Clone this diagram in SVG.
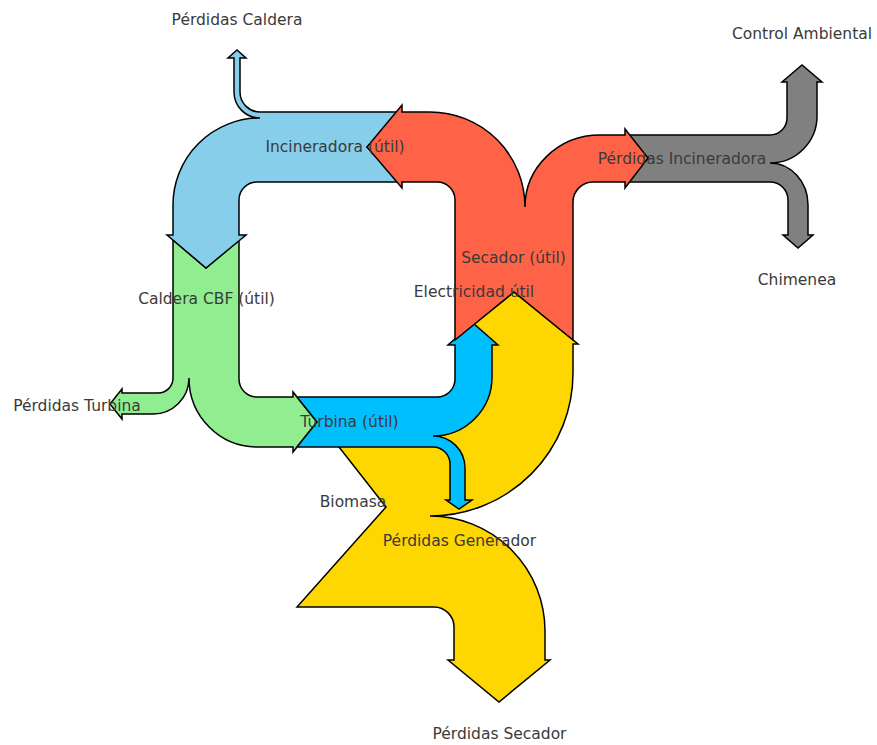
<svg xmlns="http://www.w3.org/2000/svg" width="877" height="745" viewBox="0 0 877 745">
<style>
.flow{stroke:#000;stroke-width:1.5;stroke-linejoin:miter;stroke-miterlimit:10}
.lbl{font-family:"DejaVu Sans",sans-serif;font-size:15.5px;fill:#3a3a3a;text-anchor:middle}
</style>
<rect width="877" height="745" fill="#fff"/>
<g id="connectors">
<g id="biomasa">
<path class="flow" fill="#FFD700" d="M514,292 L578,344 L573,344 L573,373 A143,143 0 0 1 430,516 A115,115 0 0 1 545,631 L545,660 L550,660 L499,702 L448,660 L454,660 L454,627 A20,20 0 0 0 434,607 L297,607 L386,507 L339,447 L345,440 L440,430 L470,380 L474,324 Z"/>
</g>
<g id="incineradora-perdidas">
<path class="flow" fill="#808080" d="M625,135 L770,135 A17,17 0 0 0 787,118 L787,82 L782,82 L802,65 L822,82 L817,82 L817,116 A47,47 0 0 1 770,163 A38,42 0 0 1 808,205 L808,235 L813,235 L798,248 L783,235 L788,235 L788,200 A18,18 0 0 0 770,182 L625,182 L648,158 Z"/>
</g>
<g id="caldera">
<path class="flow" fill="#90EE90" d="M173,240 L206,268 L239,240 L239,379 A18,18 0 0 0 257,397 L293,397 L293,392 L317,422 L293,452 L293,447 L257,447 A68,69 0 0 1 189,378 A36,36 0 0 1 153,414 L122,414 L122,419 L110,404 L122,389 L122,393 L158,393 A15,15 0 0 0 173,378 Z"/>
</g>
<g id="turbina">
<path class="flow" fill="#00BFFF" d="M297,397 L437,397 A18,18 0 0 0 455,379 L455,345 L448,345 L473,323 L498,345 L492,345 L492,377 A59,59 0 0 1 433,436 A32,32 0 0 1 465,468 L465,500 L472,500 L459,509 L446,500 L450,500 L450,464 A17,17 0 0 0 433,447 L297,447 L317,422 Z"/>
</g>
<g id="incineradora">
<path class="flow" fill="#87CEEB" d="M173,235 L167,235 L206,268 L246,235 L239,235 L239,200 A18,18 0 0 1 257,182 L402,182 L367,147 L402,112 L260,112 A20,20 0 0 1 240,92 L240,58 L246,58 L237,50 L228,58 L234,58 L234,92 A26,26 0 0 0 260,118 A87,87 0 0 0 173,205 Z"/>
</g>
<g id="secador">
<path class="flow" fill="#FF6347" d="M367,147 L402,105 L402,112 L430,112 A95,95 0 0 1 525,207 A75,72 0 0 1 600,135 L625,135 L625,129 L648,158 L625,188 L625,182 L593,182 A20,20 0 0 0 573,202 L573,340 L514,292 L455,340 L455,200 A18,18 0 0 0 437,182 L402,182 L402,188 Z"/>
</g>
</g>
<g id="labels">
<text class="lbl" x="237" y="24.5">Pérdidas Caldera</text>
<text class="lbl" x="802" y="38.5">Control Ambiental</text>
<text class="lbl" x="335" y="151.5">Incineradora (útil)</text>
<text class="lbl" x="682" y="163.5">Pérdidas Incineradora</text>
<text class="lbl" x="797" y="284.5">Chimenea</text>
<text class="lbl" x="513.5" y="262.5">Secador (útil)</text>
<text class="lbl" x="474" y="296.5">Electricidad útil</text>
<text class="lbl" x="206.5" y="303.5">Caldera CBF (útil)</text>
<text class="lbl" x="77" y="410.5">Pérdidas Turbina</text>
<text class="lbl" x="349.5" y="426.5">Turbina (útil)</text>
<text class="lbl" x="353" y="506.5">Biomasa</text>
<text class="lbl" x="459.5" y="545.5">Pérdidas Generador</text>
<text class="lbl" x="499.5" y="738.5">Pérdidas Secador</text>
</g>
</svg>
